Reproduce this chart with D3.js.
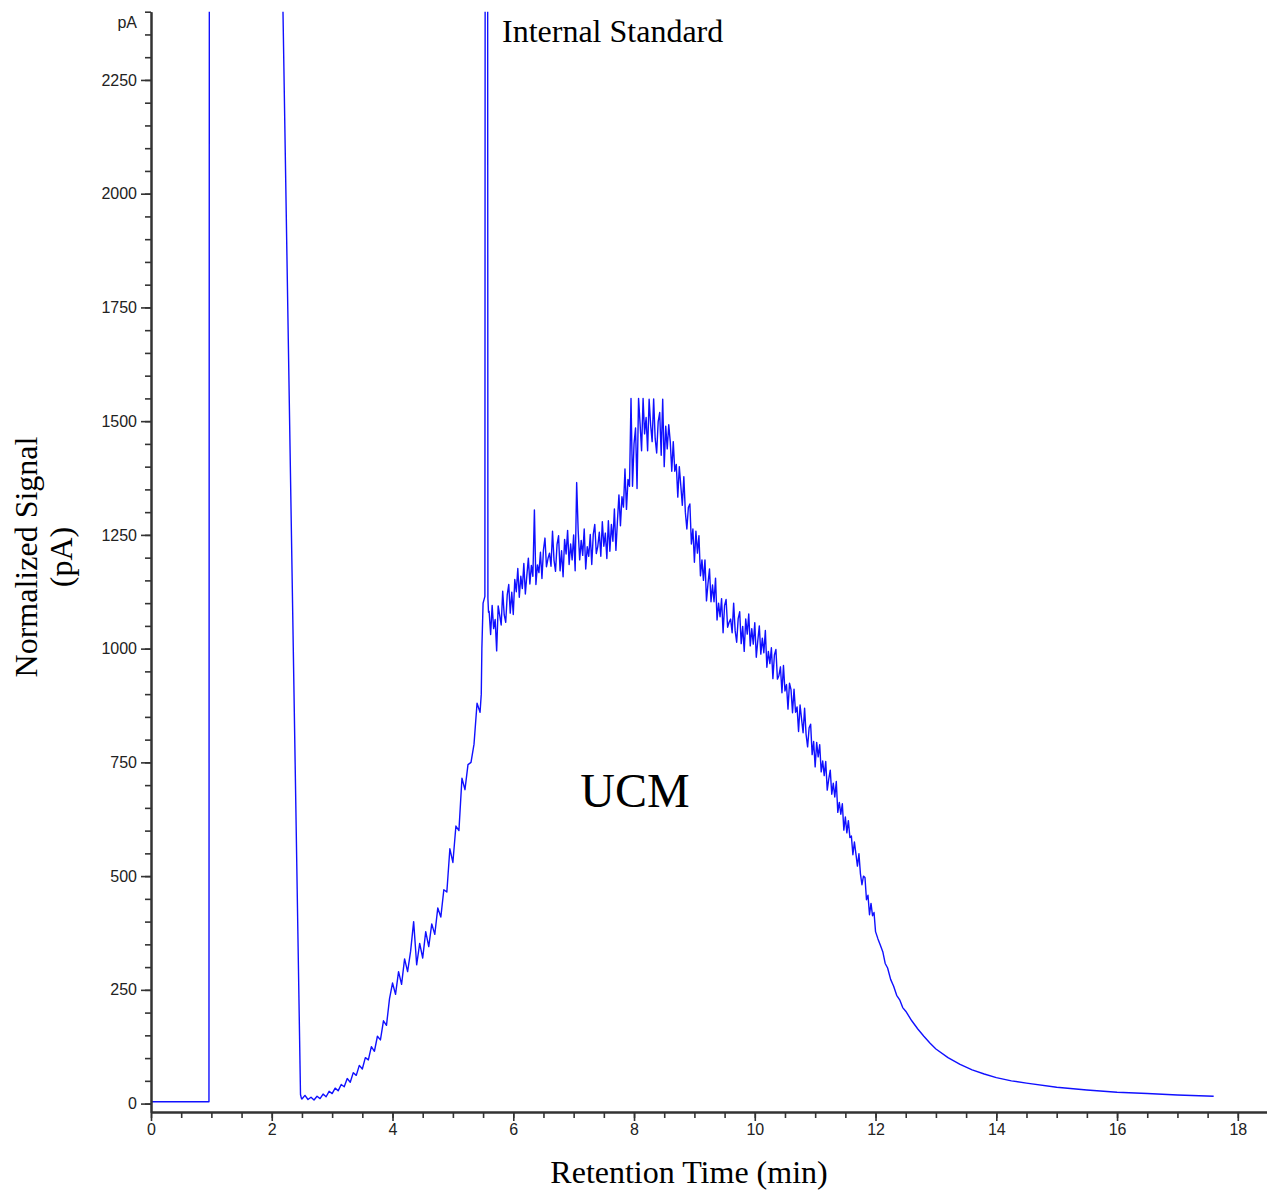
<!DOCTYPE html>
<html>
<head>
<meta charset="utf-8">
<script src="https://cdn.jsdelivr.net/npm/d3@7"></script>
<style>
  body { margin: 0; background: #fff; }
  svg { display: block; }
</style>
</head>
<body>
<div id="chart"></div>
<script>
const solventPts = [[0,4],[0.96,4],[0.975,6000],[2.17,6000],[2.186,2400],[2.476,20],[2.49,12]];

const risePts = [
  [2.50,10],[2.55,18],[2.60,9],[2.65,14],[2.70,8],[2.75,16],[2.80,11],[2.85,21],[2.90,15],[2.95,27],
  [3.00,22],[3.05,34],[3.10,28],[3.15,42],[3.20,37],[3.25,55],[3.30,47],[3.35,68],[3.40,62],[3.45,84],
  [3.50,76],[3.55,101],[3.60,96],[3.65,125],[3.70,115],[3.75,148],[3.80,140],[3.85,182],[3.90,172],[3.95,230],
  [4.00,265],[4.05,240],[4.10,290],[4.15,262],[4.20,318],[4.25,290],[4.30,335],[4.35,400],[4.40,305],[4.45,352],
  [4.50,320],[4.55,378],[4.60,345],[4.65,395],[4.70,372],[4.75,430],[4.80,410],[4.85,470],[4.90,465],[4.95,560],
  [5.00,530],[5.05,610],[5.10,600],[5.15,715],[5.20,690],[5.25,745],[5.30,750],[5.35,790],[5.40,880],[5.45,860]
];

const isPeakPts = [[5.47,900],[5.48,1000],[5.50,1100],[5.53,1115],[5.545,6000],[5.565,6000],[5.58,1110],[5.59,1080]];

// massif non résolu (UCM), bruit compris
const humpPts = [
  [5.600,1082],[5.625,1031],[5.650,1095],[5.675,1044],[5.700,1064],[5.725,995],[5.750,1094],[5.775,1073],
  [5.800,1052],[5.825,1126],[5.850,1074],[5.875,1058],[5.900,1118],[5.925,1141],[5.950,1078],[5.975,1124],
  [6.000,1075],[6.025,1152],[6.050,1125],[6.075,1176],[6.100,1113],[6.125,1159],[6.150,1132],[6.175,1187],
  [6.200,1120],[6.225,1161],[6.250,1199],[6.275,1142],[6.300,1183],[6.325,1159],[6.350,1305],[6.375,1141],
  [6.400,1184],[6.425,1167],[6.450,1212],[6.475,1154],[6.500,1217],[6.525,1243],[6.550,1180],[6.575,1198],
  [6.600,1210],[6.625,1181],[6.650,1258],[6.675,1194],[6.700,1170],[6.725,1229],[6.750,1248],[6.775,1171],
  [6.800,1215],[6.825,1158],[6.850,1240],[6.875,1208],[6.900,1260],[6.925,1185],[6.950,1230],[6.975,1195],
  [7.000,1250],[7.025,1171],[7.050,1365],[7.075,1259],[7.100,1195],[7.125,1238],[7.150,1205],[7.175,1263],
  [7.200,1175],[7.225,1224],[7.250,1203],[7.275,1251],[7.300,1185],[7.325,1251],[7.350,1273],[7.375,1209],
  [7.400,1225],[7.425,1256],[7.450,1203],[7.475,1279],[7.500,1225],[7.525,1254],[7.550,1198],[7.575,1281],
  [7.600,1214],[7.625,1273],[7.650,1236],[7.675,1307],[7.700,1216],[7.725,1280],[7.750,1338],[7.775,1270],
  [7.800,1334],[7.825,1311],[7.850,1395],[7.875,1306],[7.900,1372],[7.925,1357],[7.950,1550],[7.975,1357],
  [8.000,1450],[8.025,1485],[8.050,1352],[8.075,1550],[8.100,1495],[8.125,1435],[8.150,1550],[8.175,1472],
  [8.200,1508],[8.225,1435],[8.250,1548],[8.275,1492],[8.300,1455],[8.325,1549],[8.350,1462],[8.375,1430],
  [8.400,1499],[8.425,1519],[8.450,1425],[8.475,1548],[8.500,1400],[8.525,1489],[8.550,1439],[8.575,1492],
  [8.600,1455],[8.625,1390],[8.650,1455],[8.675,1390],[8.700,1405],[8.725,1333],[8.750,1400],[8.775,1358],
  [8.800,1315],[8.825,1378],[8.850,1300],[8.875,1263],[8.900,1310],[8.925,1318],[8.950,1230],[8.975,1263],
  [9.000,1190],[9.025,1258],[9.050,1210],[9.075,1248],[9.100,1160],[9.125,1195],[9.150,1150],[9.175,1195],
  [9.200,1105],[9.225,1143],[9.250,1175],[9.275,1103],[9.300,1140],[9.325,1103],[9.350,1155],[9.375,1063],
  [9.400,1100],[9.425,1070],[9.450,1110],[9.475,1035],[9.500,1095],[9.525,1108],[9.550,1047],[9.575,1058],
  [9.600,1065],[9.625,1035],[9.650,1100],[9.675,1039],[9.700,1014],[9.725,1066],[9.750,1081],[9.775,1011],
  [9.800,1049],[9.825,994],[9.850,1065],[9.875,1032],[9.900,1076],[9.925,1006],[9.950,1044],[9.975,1010],
  [10.000,1057],[10.025,981],[10.050,1018],[10.075,1050],[10.100,988],[10.125,1023],[10.150,991],[10.175,1040],
  [10.200,959],[10.225,994],[10.250,967],[10.275,1002],[10.300,934],[10.325,986],[10.350,998],[10.375,933],
  [10.400,941],[10.425,960],[10.450,903],[10.475,963],[10.500,907],[10.525,921],[10.550,867],[10.575,924],
  [10.600,910],[10.625,859],[10.650,911],[10.675,860],[10.700,872],[10.725,818],[10.750,876],[10.775,845],
  [10.800,815],[10.825,869],[10.850,811],[10.875,784],[10.900,826],[10.925,834],[10.950,767],[10.975,796],
  [11.000,740],[11.025,794],[11.050,762],[11.075,789],[11.100,729],[11.125,753],[11.150,721],[11.175,752],
  [11.200,689],[11.225,713],[11.250,733],[11.275,680],[11.300,704],[11.325,674],[11.350,708],[11.375,640],
  [11.400,662],[11.425,636],[11.450,659],[11.475,601],[11.500,630],[11.525,595],[11.550,622],[11.575,585],
  [11.600,588],[11.625,547],[11.650,575],[11.675,549],[11.700,522],[11.725,549],[11.750,505],[11.775,481],
  [11.800,500],[11.825,497],[11.850,448],[11.875,458],[11.900,415],[11.925,440],[11.950,413],[11.975,420],
  [12.000,378]
];

const tailPts = [
  [12.04,362],[12.08,348],[12.12,334],[12.16,308],[12.20,298],[12.25,273],[12.30,258],[12.35,238],[12.40,228],[12.45,211],
  [12.50,203],[12.6,182],[12.7,164],[12.8,148],[12.9,133],[13.0,120],[13.2,101],[13.4,86],[13.6,74],[13.8,65],
  [14.0,57],[14.25,50],[14.5,45],[15.0,36],[15.5,30],[16.0,25],[16.5,22],[17.0,19],[17.6,16]
];

const xMajorTicks = [0,2,4,6,8,10,12,14,16,18];
const yMajorTicks = [0,250,500,750,1000,1250,1500,1750,2000,2250];

// --- dessin ---
const width = 1267, height = 1193;
const svg = d3.select("#chart").append("svg")
  .attr("width", width)
  .attr("height", height);

const x = d3.scaleLinear().domain([0, 18.5]).range([151, 1268]);
const y = d3.scaleLinear().domain([-18.5, 2400]).range([1112, 11.7]);

const tickFont = "'Liberation Sans', Arial, sans-serif";
const titleFont = "'Liberation Serif', 'Times New Roman', serif";

svg.append("defs").append("clipPath").attr("id", "plotClip")
  .append("rect")
  .attr("x", x(0)).attr("y", y(2400))
  .attr("width", x(18.5) - x(0)).attr("height", y(-18.5) - y(2400));

// trace du signal
const allPts = solventPts.concat(risePts, isPeakPts, humpPts, tailPts);
const line = d3.line().x(d => x(d[0])).y(d => y(d[1]));
svg.append("path")
  .datum(allPts)
  .attr("clip-path", "url(#plotClip)")
  .attr("fill", "none")
  .attr("stroke", "#1010ff")
  .attr("stroke-width", 1.4)
  .attr("stroke-linejoin", "round")
  .attr("d", line);

// axe Y : petites graduations puis graduations principales
const yMinor = svg.append("g").attr("transform", "translate(" + x(0) + ",0)")
  .call(d3.axisLeft(y).tickValues(d3.range(0, 2401, 50)).tickSize(6).tickSizeOuter(0).tickFormat(""));
const yMajor = svg.append("g").attr("transform", "translate(" + x(0) + ",0)")
  .call(d3.axisLeft(y).tickValues(yMajorTicks).tickSize(10).tickSizeOuter(0).tickPadding(4).tickFormat(d3.format("d")));

// axe X
const xMinor = svg.append("g").attr("transform", "translate(0," + y(-18.5) + ")")
  .call(d3.axisBottom(x).tickValues(d3.range(0, 18.01, 0.5)).tickSize(6).tickSizeOuter(0).tickFormat(""));
const xMajor = svg.append("g").attr("transform", "translate(0," + y(-18.5) + ")")
  .call(d3.axisBottom(x).tickValues(xMajorTicks).tickSize(9).tickSizeOuter(0).tickPadding(3).tickFormat(d3.format("d")));

[yMinor, yMajor, xMinor, xMajor].forEach(g => {
  g.select(".domain").attr("stroke", "#333").attr("stroke-width", 2);
  g.selectAll(".tick line").attr("stroke", "#333").attr("stroke-width", 1.6);
  g.selectAll("text")
    .attr("font-family", tickFont)
    .attr("font-size", 16)
    .attr("fill", "#222");
});

// unité en haut de l'axe
svg.append("text")
  .attr("x", 137).attr("y", 28)
  .attr("text-anchor", "end")
  .attr("font-family", tickFont)
  .attr("font-size", 16)
  .attr("fill", "#222")
  .text("pA");

// titres
svg.append("text")
  .attr("x", 689).attr("y", 1183)
  .attr("text-anchor", "middle")
  .attr("font-family", titleFont)
  .attr("font-size", 32)
  .attr("fill", "#000")
  .text("Retention Time (min)");

const yTitle = svg.append("text")
  .attr("transform", "translate(37,557) rotate(-90)")
  .attr("text-anchor", "middle")
  .attr("font-family", titleFont)
  .attr("font-size", 32)
  .attr("fill", "#000");
yTitle.append("tspan").attr("x", 0).attr("y", 0).text("Normalized Signal");
yTitle.append("tspan").attr("x", 0).attr("y", 35).text("(pA)");

// annotations
svg.append("text")
  .attr("x", 502).attr("y", 42)
  .attr("font-family", titleFont)
  .attr("font-size", 32)
  .attr("fill", "#000")
  .text("Internal Standard");

svg.append("text")
  .attr("x", 635).attr("y", 807)
  .attr("text-anchor", "middle")
  .attr("font-family", titleFont)
  .attr("font-size", 48)
  .attr("fill", "#000")
  .text("UCM");
</script>
</body>
</html>
